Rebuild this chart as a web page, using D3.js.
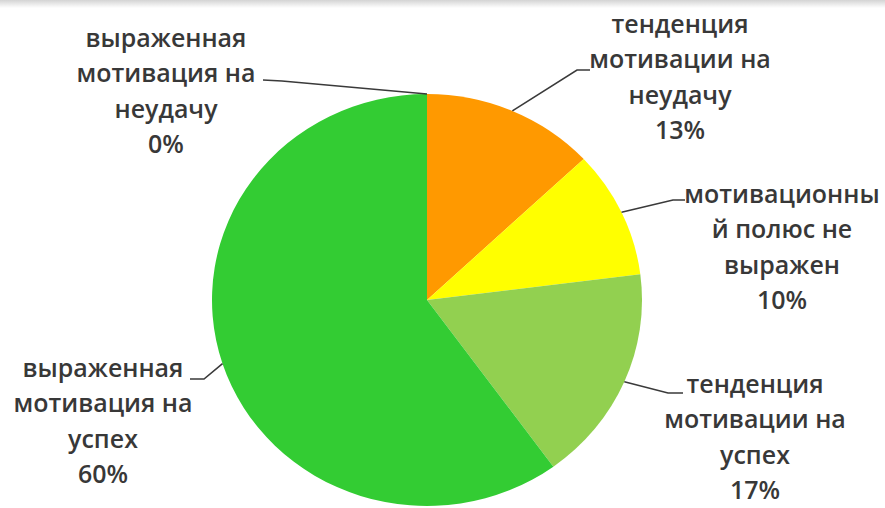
<!DOCTYPE html>
<html>
<head>
<meta charset="utf-8">
<script src="https://cdn.jsdelivr.net/npm/d3@7"></script>
<style>
  html, body { margin: 0; padding: 0; background: #fff; }
  svg { display: block; }
  text { font-family: "Open Sans", "DejaVu Sans", sans-serif; fill: #383838; }
</style>
</head>
<body>
<svg id="chart" width="885" height="508"></svg>
<script>
// Motivation poles — share of respondents, clockwise from 12 o'clock
const categories = [
  "тенденция мотивации на неудачу",
  "мотивационный полюс не выражен",
  "тенденция мотивации на успех",
  "выраженная мотивация на успех",
  "выраженная мотивация на неудачу"
];
const values = [13, 10, 17, 60, 0];
const colors = ["#FF9900", "#FFFF00", "#92D050", "#33CC33", "#C00000"];
// Label text, already broken into lines as drawn
const labelLines = [
  ["тенденция", "мотивации на", "неудачу"],
  ["мотивационны", "й полюс не", "выражен"],
  ["тенденция", "мотивации на", "успех"],
  ["выраженная", "мотивация на", "успех"],
  ["выраженная", "мотивация на", "неудачу"]
];

const svg = d3.select("#chart");
const W = 885, H = 508;

// faint band along the top edge
const defs = svg.append("defs");
const grad = defs.append("linearGradient").attr("id", "topband")
  .attr("x1", 0).attr("y1", 0).attr("x2", 0).attr("y2", 1);
grad.append("stop").attr("offset", "0%").attr("stop-color", "#d4d4d4");
grad.append("stop").attr("offset", "100%").attr("stop-color", "#ffffff");
svg.append("rect").attr("x", 0).attr("y", 0).attr("width", W).attr("height", 8)
  .attr("fill", "url(#topband)");

// pie geometry (slightly wider than tall)
const cx = 427, cy = 300, ry = 206, rx = 215;
const sx = rx / ry;

const pie = d3.pie().sort(null).value(d => d)
  .startAngle(0).endAngle(2 * Math.PI);
const arcs = pie(values);
const arc = d3.arc().innerRadius(0).outerRadius(ry);
const edge = d3.arc().innerRadius(ry).outerRadius(ry);

const g = svg.append("g")
  .attr("transform", `translate(${cx},${cy}) scale(${sx},1)`);
g.selectAll("path.slice")
  .data(arcs)
  .join("path")
  .attr("class", "slice")
  .attr("d", arc)
  .attr("fill", (d, i) => colors[i]);

// label placement: centre x, first baseline, leader elbow points (label side)
const layout = [
  { x: 680, y: 33,  leader: [[590, 70], [577, 70]] },
  { x: 782, y: 203, leader: [[685, 200], [673, 200]] },
  { x: 755, y: 393, leader: [[683, 393], [668, 393]] },
  { x: 103, y: 377, leader: [[190, 379], [204, 379]] },
  { x: 166, y: 47,  leader: [[263, 80], [282, 81]] }
];
const lineH = 35.3;

// fit the font so a reference line spans its measured width
const probe = svg.append("text").attr("font-size", 28).attr("font-weight", 600)
  .text("мотивация на");
const pw = probe.node().getComputedTextLength();
probe.remove();
const fontSize = 28 * 179 / pw;

const fmt = v => d3.format(".0f")(v) + "%";

arcs.forEach((a, i) => {
  const L = layout[i];
  // leader line from label to the arc edge at the slice mid-angle
  const c = edge.centroid(a);
  const pts = L.leader.concat([[cx + c[0] * sx, cy + c[1]]]);
  svg.append("path")
    .attr("d", d3.line()(pts))
    .attr("fill", "none")
    .attr("stroke", "#3a3a3a")
    .attr("stroke-width", 1.6);

  const t = svg.append("text")
    .attr("text-anchor", "middle")
    .attr("font-size", fontSize)
    .attr("font-weight", 600);
  labelLines[i].concat([fmt(a.data)]).forEach((s, k) => {
    t.append("tspan").attr("x", L.x).attr("y", L.y + k * lineH).text(s);
  });
});
</script>
</body>
</html>
